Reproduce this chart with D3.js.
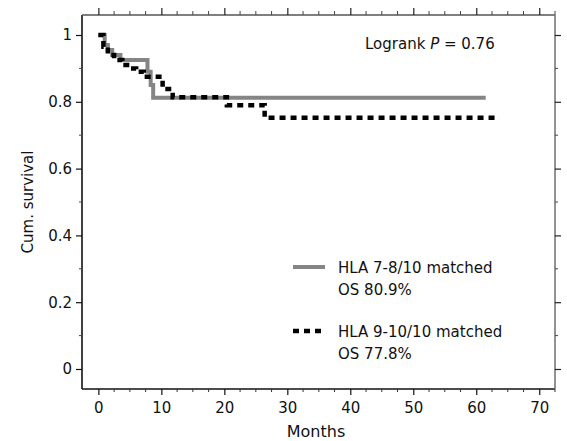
<!DOCTYPE html>
<html><head><meta charset="utf-8">
<script src="https://cdn.jsdelivr.net/npm/d3@7"></script>
<style>
html,body{margin:0;padding:0;background:#fff;}
svg text{font-family:"DejaVu Sans",sans-serif;fill:#111;}
</style></head>
<body><svg id="c" width="567" height="441"></svg>
<script>
// ---- data ----
const xTicks = [0, 10, 20, 30, 40, 50, 60, 70];
const yTicks = [0, 0.2, 0.4, 0.6, 0.8, 1];
const yTickLabels = ["0", "0.2", "0.4", "0.6", "0.8", "1"];
const grayTimes = [0, 1.0, 1.5, 2.2, 3.5, 7.8, 8.3, 8.7, 61.5];
const graySurv  = [1.0, 0.97, 0.955, 0.94, 0.925, 0.89, 0.85, 0.812, 0.812];
const blackTimes = [0, 0.8, 1.5, 2.5, 3.8, 5.0, 6.0, 7.2, 10.2, 11.8, 20.4, 26.4, 63.7];
const blackSurv  = [1.0, 0.965, 0.94, 0.925, 0.91, 0.90, 0.89, 0.875, 0.838, 0.814, 0.79, 0.752, 0.752];
const seriesNames = ["HLA 7-8/10 matched", "HLA 9-10/10 matched"];
const seriesOS = ["OS 80.9%", "OS 77.8%"];

(function () {
const svg = d3.select("#c");
const L = 82, R = 555, T = 15, B = 389;
const x = d3.scaleLinear().domain([-2.6, 72.5]).range([L, R]);
const y = d3.scaleLinear().domain([-0.0599, 1.0599]).range([B, T]);

const minorX = d3.range(0, 72.6, 2.5).filter(v => v % 10 !== 0);
const minorY = d3.range(0.1, 1.01, 0.2);

// frame
svg.append("line").attr("x1", L).attr("x2", L).attr("y1", T).attr("y2", B).attr("stroke", "#111").attr("stroke-width", 1.6);
svg.append("line").attr("x1", L).attr("x2", R).attr("y1", B).attr("y2", B).attr("stroke", "#111").attr("stroke-width", 1.6);
svg.append("line").attr("x1", L).attr("x2", R).attr("y1", T).attr("y2", T).attr("stroke", "#555").attr("stroke-width", 1.3);
svg.append("line").attr("x1", R).attr("x2", R).attr("y1", T).attr("y2", B).attr("stroke", "#777").attr("stroke-width", 1.6);

// bottom axis
const gBottom = svg.append("g").attr("transform", `translate(0,${B})`)
  .call(d3.axisBottom(x).tickValues(xTicks).tickSize(6).tickPadding(7).tickFormat(d3.format("d")));
gBottom.select(".domain").remove();
gBottom.selectAll("text").attr("font-size", 15).attr("font-family", "DejaVu Sans").attr("fill", "#111");
gBottom.selectAll("line").attr("stroke", "#111").attr("stroke-width", 1.2);
svg.append("g").selectAll("line").data(minorX).join("line")
  .attr("x1", d => x(d)).attr("x2", d => x(d)).attr("y1", B).attr("y2", B + 3)
  .attr("stroke", "#333").attr("stroke-width", 1);

// top axis
const gTop = svg.append("g").attr("transform", `translate(0,${T})`)
  .call(d3.axisTop(x).tickValues(xTicks).tickSize(7).tickFormat(""));
gTop.select(".domain").remove();
gTop.selectAll("line").attr("stroke", "#222").attr("stroke-width", 1.2);
svg.append("g").selectAll("line").data(minorX).join("line")
  .attr("x1", d => x(d)).attr("x2", d => x(d)).attr("y1", T).attr("y2", T - 4)
  .attr("stroke", "#444").attr("stroke-width", 1);

// left axis
const gLeft = svg.append("g").attr("transform", `translate(${L},0)`)
  .call(d3.axisLeft(y).tickValues(yTicks).tickSize(6).tickPadding(4).tickFormat((d, i) => yTickLabels[i]));
gLeft.select(".domain").remove();
gLeft.selectAll("text").attr("font-size", 15).attr("font-family", "DejaVu Sans").attr("fill", "#111");
gLeft.selectAll("line").attr("stroke", "#111").attr("stroke-width", 1.2);
svg.append("g").selectAll("line").data(minorY).join("line")
  .attr("x1", L).attr("x2", L - 3).attr("y1", d => y(d)).attr("y2", d => y(d))
  .attr("stroke", "#444").attr("stroke-width", 1);

// right axis
const gRight = svg.append("g").attr("transform", `translate(${R},0)`)
  .call(d3.axisRight(y).tickValues(yTicks).tickSize(6).tickFormat(""));
gRight.select(".domain").remove();
gRight.selectAll("line").attr("stroke", "#222").attr("stroke-width", 1.2);
svg.append("g").selectAll("line").data(minorY).join("line")
  .attr("x1", R).attr("x2", R + 3).attr("y1", d => y(d)).attr("y2", d => y(d))
  .attr("stroke", "#444").attr("stroke-width", 1);

// axis titles
svg.append("text").attr("x", 316).attr("y", 437).attr("text-anchor", "middle").attr("font-size", 16).text("Months");
svg.append("text").attr("transform", "translate(33,202) rotate(-90)").attr("text-anchor", "middle").attr("font-size", 15).text("Cum. survival");

// curves
const line = d3.line().x(d => x(d[0])).y(d => y(d[1])).curve(d3.curveStepAfter);
const gray = grayTimes.map((t, i) => [t, graySurv[i]]);
const black = blackTimes.map((t, i) => [t, blackSurv[i]]);
svg.append("path").datum(gray).attr("d", line).attr("fill", "none").attr("stroke", "#858585").attr("stroke-width", 4);
svg.append("path").datum(black).attr("d", line).attr("fill", "none").attr("stroke", "#000").attr("stroke-width", 4.5).attr("stroke-dasharray", "6,5");

// p-value
const pt = svg.append("text").attr("x", 365).attr("y", 49).attr("font-size", 15);
pt.append("tspan").text("Logrank ");
pt.append("tspan").attr("font-style", "italic").text("P");
pt.append("tspan").text(" = 0.76");

// legend
const lg = [{y: 267, dash: null, color: "#858585", w: 4}, {y: 331, dash: "6,5", color: "#000", w: 4.5}];
lg.forEach((d, i) => {
  svg.append("line").attr("x1", 293).attr("x2", 325).attr("y1", d.y).attr("y2", d.y)
    .attr("stroke", d.color).attr("stroke-width", d.w).attr("stroke-dasharray", d.dash);
  svg.append("text").attr("x", 338).attr("y", d.y + 6).attr("font-size", 15).text(seriesNames[i]);
  svg.append("text").attr("x", 338).attr("y", d.y + 28).attr("font-size", 15).text(seriesOS[i]);
});
})();
</script></body></html>
